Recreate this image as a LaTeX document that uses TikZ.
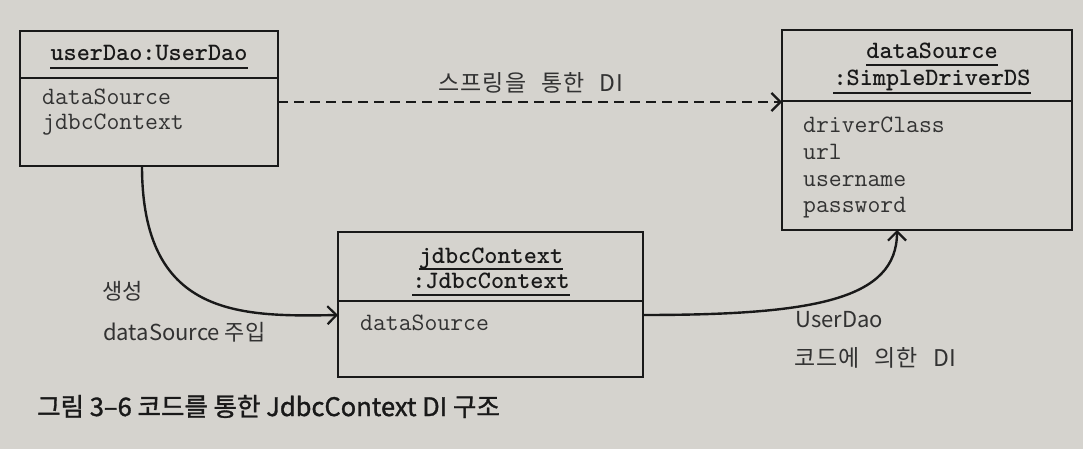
\documentclass[tikz,border=0pt]{standalone}
\usepackage{fontspec}
\newfontfamily\kr{Noto Sans CJK KR}
\newfontfamily\krw[LetterSpace=4,WordSpace=2.5]{Noto Sans CJK KR}
\newfontfamily\krcap[FakeBold=1.3]{Noto Sans CJK KR}
\usetikzlibrary{arrows.meta,calc}
\definecolor{paper}{RGB}{213,211,206}
\definecolor{ink}{RGB}{25,25,25}
\definecolor{txt}{RGB}{50,50,50}
\begin{document}
\begin{tikzpicture}[x=1pt,y=-1pt,
  box/.style={draw=ink,line width=2.2pt,rectangle,anchor=north west,inner sep=0pt,outer sep=0pt},
  divider/.style={draw=ink,line width=2.2pt},
  field/.style={inner sep=0pt,anchor=base west,text=txt,font=\fontsize{25}{26}\ttfamily},
  ttitle/.style={inner sep=0pt,anchor=base,text=ink,font=\fontsize{25}{26}\ttfamily\bfseries},
  uline/.style={draw=ink,line width=2pt},
  lbl/.style={inner sep=0pt,text=txt,font=\fontsize{22}{24}\kr},
  lblk/.style={lbl,font=\fontsize{23}{25}\krw},
  conn/.style={draw=ink,line width=2.4pt},
  tip/.style={-{Straight Barb[length=9pt,width=18pt,line width=2.2pt]}}
]
\fill[paper] (0,0) rectangle (1083,449);
\useasboundingbox (0,0) rectangle (1083,449);

% userDao box
\node[box,minimum width=258pt,minimum height=135pt] (ud) at (20,31) {};
\draw[divider] (ud.west |- 0,78) -- (ud.east |- 0,78);
\node[ttitle] (udt) at (149,61) {userDao:UserDao};
\draw[uline] ($(udt.base west)+(0,7)$) -- ($(udt.base east)+(0,7)$);
\node[field] (udf1) at (42,105) {dataSource};
\node[field] (udf2) at (42,130) {jdbcContext};

% dataSource box
\node[box,minimum width=290pt,minimum height=200pt] (ds) at (782,30) {};
\draw[divider] (ds.west |- 0,101) -- (ds.east |- 0,101);
\node[ttitle] (dst1) at (932,59) {dataSource};
\draw[uline] ($(dst1.base west)+(0,6)$) -- ($(dst1.base east)+(0,6)$);
\node[ttitle] (dst2) at (932,86) {:SimpleDriverDS};
\draw[uline] ($(dst2.base west)+(0,7)$) -- ($(dst2.base east)+(0,7)$);
\node[field] (dsf1) at (803,133) {driverClass};
\node[field] (dsf2) at (803,160) {url};
\node[field] (dsf3) at (803,186) {username};
\node[field] (dsf4) at (803,212) {password};

% jdbcContext box
\node[box,minimum width=305pt,minimum height=145pt] (jc) at (338,232) {};
\draw[divider] (jc.west |- 0,301) -- (jc.east |- 0,301);
\node[ttitle] (jct1) at (491,263) {jdbcContext};
\draw[uline] ($(jct1.base west)+(0,6)$) -- ($(jct1.base east)+(0,6)$);
\node[ttitle] (jct2) at (491,288) {:JdbcContext};
\draw[uline] ($(jct2.base west)+(0,7)$) -- ($(jct2.base east)+(0,7)$);
\node[field] (jcf1) at (360,330) {dataSource};

% connectors
\coordinate (dsin) at (ds.west |- 0,102);
\draw[conn,tip,dash pattern=on 10pt off 6pt] (ud.east |- dsin) -- (dsin);
\node[lblk,anchor=base] (l1) at (531,92) {스프링을 통한 DI};

\draw[conn,tip] ([xshift=-7pt]ud.south) .. controls +(0,150) and +(-100,2) .. ([yshift=-10.5pt]jc.west);
\node[lbl,anchor=base west] (l2) at (102,299) {생성};
\node[lbl,anchor=base west] (l3) at (103,340) {dataSource 주입};

\draw[conn,tip] ([yshift=-10.5pt]jc.east) .. controls +(170,0) and +(0,70) .. ([xshift=-30pt]ds.south);
\node[lbl,anchor=base west] (l4) at (795,327) {UserDao};
\node[lblk,anchor=base west] (l5) at (794,366) {코드에 의한 DI};

% caption
\node[inner sep=0pt,anchor=base west,text=ink,font=\fontsize{25.5}{27}\krcap] (cap) at (37,416) {그림 3–6 코드를 통한 JdbcContext DI 구조};
\end{tikzpicture}
\end{document}
